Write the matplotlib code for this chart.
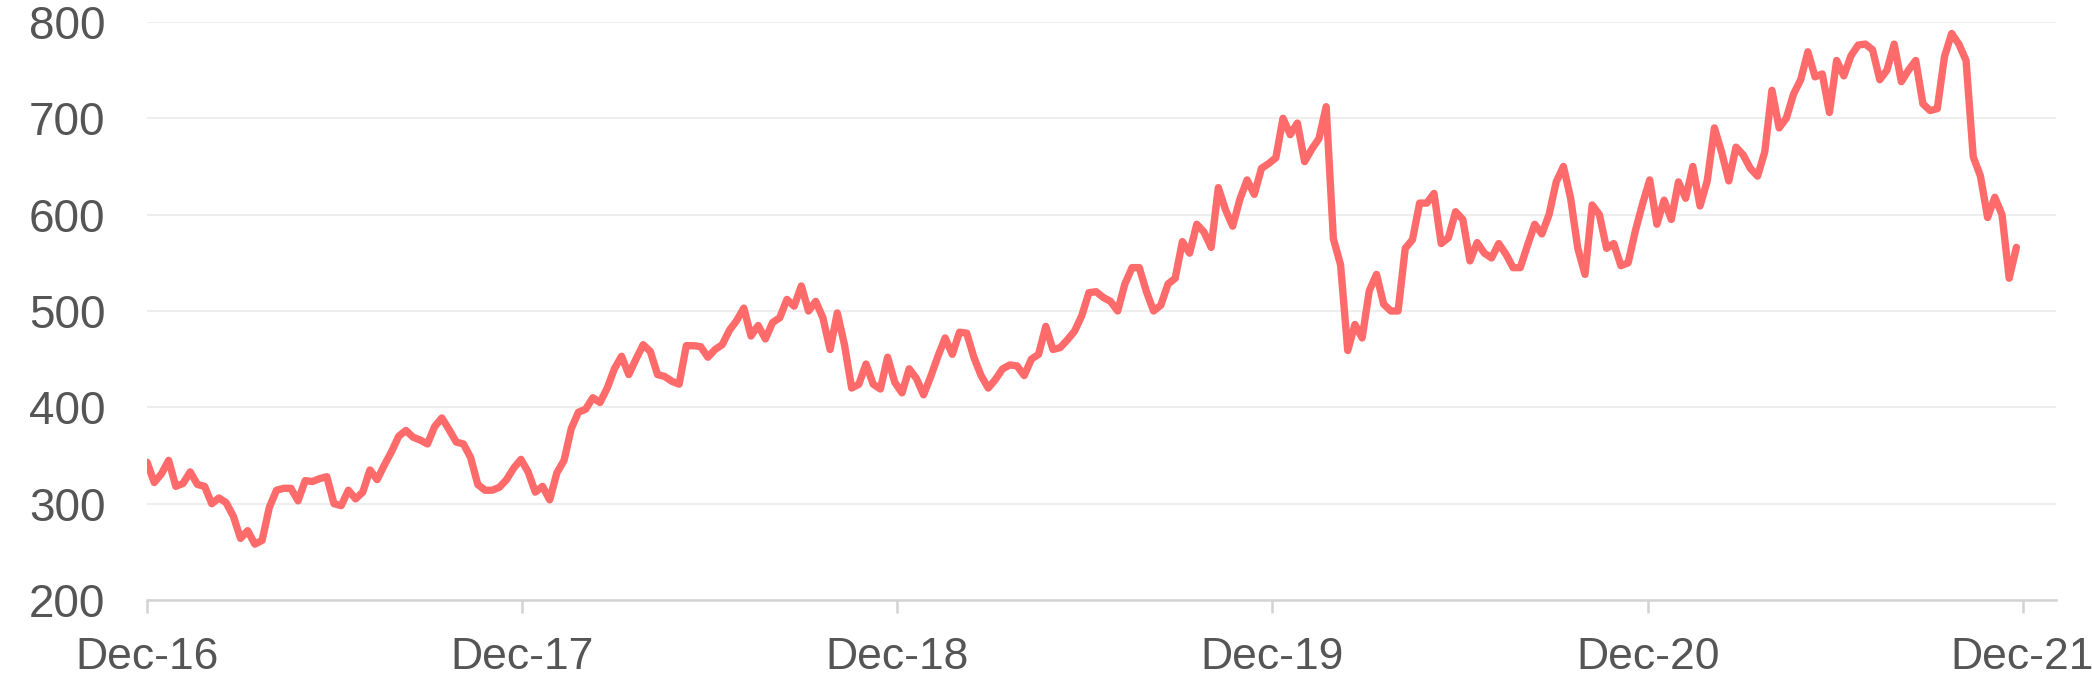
import matplotlib
matplotlib.use("Agg")
import matplotlib.pyplot as plt
import matplotlib.dates as mdates
import numpy as np
import pandas as pd

plt.rcParams['font.family'] = ['Liberation Sans', 'DejaVu Sans']

# weekly closing values, starting 1 Dec 2016
start_date = "2016-12-01"
prices = [
    343, 322, 331, 345, 318, 321, 333, 320, 318, 300, 306, 301, 287, 264, 272,
    258, 262, 296, 314, 316, 316, 303, 324, 323, 326, 328, 300, 298, 314, 305,
    312, 335, 325, 340, 354, 370, 376, 369, 366, 362, 380, 389, 377, 364, 362,
    348, 320, 314, 314, 317, 325, 337, 346, 333, 312, 318, 304, 332, 345, 378,
    395, 398, 410, 405, 420, 440, 453, 434, 450, 465, 458, 434, 432, 427, 424,
    464, 464, 463, 452, 460, 465, 480, 490, 503, 474, 485, 471, 488, 493, 512,
    505, 526, 500, 510, 493, 460, 498, 465, 420, 424, 445, 424, 419, 452, 426,
    415, 440, 430, 413, 432, 453, 472, 455, 478, 477, 452, 433, 420, 429, 440,
    444, 443, 433, 450, 455, 484, 460, 462, 470, 479, 495, 519, 520, 514, 510,
    500, 528, 545, 545, 520, 500, 506, 528, 534, 572, 560, 590, 582, 566, 628,
    605, 588, 616, 636, 621, 648, 653, 659, 700, 683, 695, 655, 668, 679, 712,
    575, 548, 459, 486, 472, 521, 538, 507, 500, 500, 565, 574, 612, 612,
    622, 570, 576, 603, 595, 552, 571, 560, 555, 570, 559, 545, 545, 568, 590,
    580, 600, 634, 650, 617, 565, 538, 610, 600, 565, 570, 547, 550, 583, 611,
    636, 590, 615, 595, 634, 617, 650, 609, 635, 690, 665, 635, 670, 662,
    648, 640, 665, 729, 690, 700, 725, 740, 769, 743, 746, 706, 760, 744, 765,
    776, 777, 771, 740, 750, 777, 738, 750, 760, 715, 708, 710, 764, 788, 777,
    760, 660, 640, 597, 618, 600, 534, 566,
]
dates = pd.date_range(start_date, periods=len(prices), freq="7D")
y_ticks = [200, 300, 400, 500, 600, 700, 800]

fig = plt.figure(figsize=(20.92, 6.85), dpi=100)
ax = fig.add_axes([0.0703, 0.124, 0.9127, 0.844])

ax.plot(dates, prices, color="#FF6B6B", lw=5.3, solid_joinstyle="round",
        solid_capstyle="round", zorder=3)

ax.set_xlim(pd.Timestamp("2016-12-01"), pd.Timestamp("2022-01-03"))
ax.set_ylim(200, 800)
ax.set_yticks(y_ticks)
ax.xaxis.set_major_locator(mdates.YearLocator(month=12))
ax.xaxis.set_major_formatter(mdates.DateFormatter("%b-%y"))

ax.grid(axis="y", color="#EEEEEE", lw=1.5, zorder=0)
for s in ["top", "right", "left"]:
    ax.spines[s].set_visible(False)
ax.spines["bottom"].set_color("#D3D3D3")
ax.spines["bottom"].set_linewidth(1.8)

ax.tick_params(axis="y", length=0, pad=30, labelsize=33, labelcolor="#555555")
ax.tick_params(axis="x", length=9.5, width=1.8, color="#D3D3D3", pad=17,
               labelsize=32, labelcolor="#555555")

fig.savefig("out.png", dpi=100, facecolor="white")
